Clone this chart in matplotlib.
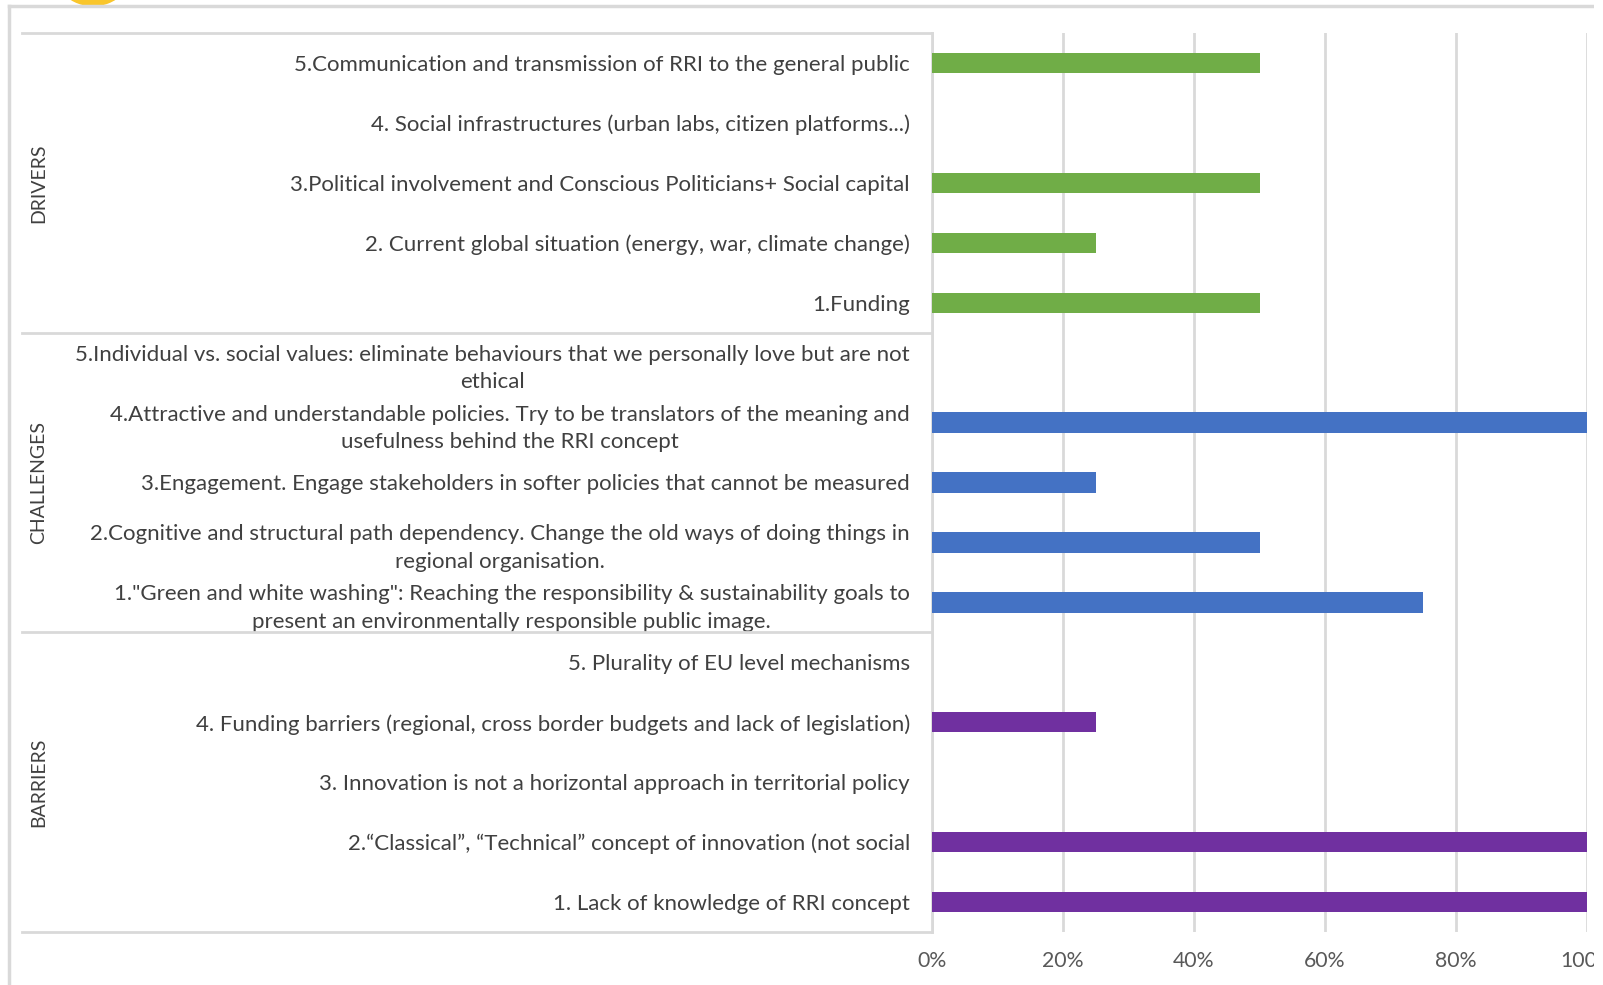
import matplotlib.pyplot as plt
import matplotlib.patches as mpatches
from matplotlib.lines import Line2D
import numpy as np

plt.rcParams['font.family'] = ['Lato', 'DejaVu Sans']

# categories, top to bottom
drivers = [
    '5.Communication and transmission of RRI to the general public',
    '4. Social infrastructures (urban labs, citizen platforms...)',
    '3.Political involvement and Conscious Politicians+ Social capital',
    '2. Current global situation (energy, war, climate change)',
    '1.Funding',
]
challenges = [
    '5.Individual vs. social values: eliminate behaviours that we personally love but are not\nethical',
    '4.Attractive and understandable policies. Try to be translators of the meaning and\nusefulness behind the RRI concept',
    '3.Engagement. Engage stakeholders in softer policies that cannot be measured',
    '2.Cognitive and structural path dependency. Change the old ways of doing things in\nregional organisation.',
    '1."Green and white washing": Reaching the responsibility & sustainability goals to\npresent an environmentally responsible public image.',
]
barriers = [
    '5. Plurality of EU level mechanisms',
    '4. Funding barriers (regional, cross border budgets and lack of legislation)',
    '3. Innovation is not a horizontal approach in territorial policy',
    '2.\u201cClassical\u201d, \u201cTechnical\u201d concept of innovation (not social',
    '1. Lack of knowledge of RRI concept',
]
drivers_val = [0.50, 0.0, 0.50, 0.25, 0.50]
challenges_val = [0.0, 1.0, 0.25, 0.50, 0.75]
barriers_val = [0.0, 0.25, 0.0, 1.0, 1.0]

groups = ['DRIVERS', 'CHALLENGES', 'BARRIERS']
colors = ['#70AD47', '#4472C4', '#7030A0']
xticks = [0, 0.2, 0.4, 0.6, 0.8, 1.0]
xlabels = ['0%', '20%', '40%', '60%', '80%', '100%']

W, H = 1603, 985
x0, x1, ytop, ybot = 932, 1587, 33, 932   # plot area in pixels
fig = plt.figure(figsize=(W / 100, H / 100), dpi=100)
ax = fig.add_axes([x0 / W, 1 - ybot / H, (x1 - x0) / W, (ybot - ytop) / H])

labels = drivers + challenges + barriers
values = drivers_val + challenges_val + barriers_val
cols = [colors[0]] * 5 + [colors[1]] * 5 + [colors[2]] * 5
n = len(labels)
ypos = np.arange(n)[::-1]

ax.barh(ypos, values, height=0.34, color=cols, zorder=3)
ax.set_ylim(-0.5, n - 0.5)
ax.set_xlim(0, 1)

ax.set_yticks(ypos)
ax.set_yticklabels(labels, fontsize=16, color='#404040', multialignment='center',
                   linespacing=1.45)
ax.tick_params(axis='y', length=0, pad=16)
ax.set_xticks(xticks)
ax.set_xticklabels(xlabels, fontsize=15.3, color='#595959')
ax.tick_params(axis='x', length=0, pad=14)
ax.xaxis.grid(True, color='#D9D9D9', linewidth=2, zorder=0)

for s in ['top', 'right', 'bottom']:
    ax.spines[s].set_visible(False)
ax.spines['left'].set_color('#D9D9D9')
ax.spines['left'].set_linewidth(2)

# group separators and group names
trans = ax.get_yaxis_transform()
xleft = (22 - x0) / (x1 - x0)
for y in [n - 0.5, 9.5, 4.5, -0.5]:
    ax.plot([xleft, 0], [y, y], color='#D9D9D9', linewidth=2, transform=trans, clip_on=False)
xgrp = (39 - x0) / (x1 - x0)
for k, g in enumerate(groups):
    yc = n - 1 - (k * 5 + 2)
    ax.text(xgrp, yc, g, transform=trans, rotation=90, ha='center', va='center',
            fontsize=14, color='#404040')

# outer frame (cropped) and decoration
fig.add_artist(Line2D([9 / W, 9 / W], [0, 1 - 6 / H], transform=fig.transFigure,
                      color='#D9D9D9', linewidth=2.5))
fig.add_artist(Line2D([9 / W, 1593 / W], [1 - 6 / H, 1 - 6 / H], transform=fig.transFigure,
                      color='#D9D9D9', linewidth=2.5))
fig.add_artist(mpatches.Arc((93 / 100, (H + 36) / 100), 0.75, 0.75, theta1=220, theta2=315,
                            transform=fig.dpi_scale_trans, color='#F9C62C', linewidth=7))
# the screenshot is cut off at the right
fig.add_artist(mpatches.Rectangle((1594 / W, 0), 1, 1, transform=fig.transFigure,
                                  facecolor='white', edgecolor='none', zorder=10))

fig.savefig('out.png', dpi=100)
